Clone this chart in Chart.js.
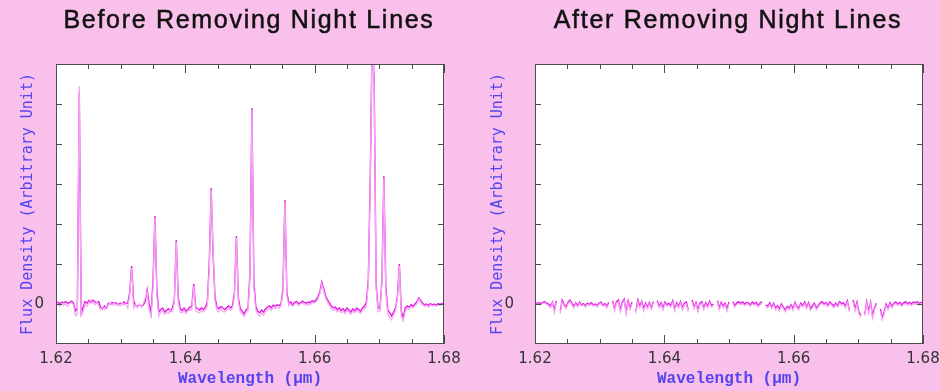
<!DOCTYPE html>
<html>
<head>
<meta charset="utf-8">
<script src="https://cdn.jsdelivr.net/npm/chart.js@4/dist/chart.umd.min.js"></script>
<style>
  body { margin: 0; background: #f8c0ea; }
  .wrap { position: absolute; top: 0; width: 470px; height: 391px; }
  #left { left: 0; }
  #right { left: 470px; }
</style>
</head>
<body>
<div class="wrap" id="left"><canvas id="before" width="470" height="391"></canvas></div>
<div class="wrap" id="right"><canvas id="after" width="470" height="391"></canvas></div>
<script>
// wavelength sampling (micron), one flux value per sample
const wlStart = 1.62;
const wlStep = 0.0003;

const xLabelTicks = [1.62, 1.64, 1.66, 1.68];
const xMinorTicks = [1.625, 1.63, 1.635, 1.645, 1.65, 1.655, 1.665, 1.67, 1.675];
const yTicks = [0, 1, 2, 3, 4, 5];

// raw spectrum, two exposures, sky (OH) lines still in
const beforeA = [
  0.02, 0.04, 0.01, 0.05, 0.03, 0.06, 0.02, 0.04, 0.07, 0.03,
  -0.18, -0.1, 5.3, -0.22, -0.08, 0.06, 0.02, 0.09, 0.04, 0.1,
  0.05, 0.03, 0.06, -0.08, -0.12, -0.05, -0.1, 0.02, 0.0, 0.04,
  0.01, 0.03, -0.02, 0.02, 0.0, 0.05, 0.01, 0.02, 0.3, 0.95,
  0.08, -0.04, -0.06, -0.02, -0.05, -0.03, 0.06, 0.35, 0.02, -0.24,
  0.55, 2.2, 0.35, -0.2, -0.14, -0.1, -0.2, -0.16, -0.12, -0.18,
  -0.1, 0.1, 1.6, 0.18, -0.12, -0.16, -0.1, -0.18, -0.13, -0.08,
  -0.06, 0.5, -0.08, -0.12, -0.15, -0.1, -0.14, -0.08, 0.05, 1.0,
  2.9, 1.2, 0.15, -0.08, -0.12, -0.06, -0.1, -0.14, -0.09, -0.05,
  -0.1, -0.04, 0.3, 1.7, 0.15, -0.12, -0.18, -0.25, -0.14, -0.1,
  0.8, 4.9, 0.55, -0.06, -0.18, -0.22, -0.15, -0.2, -0.12, -0.08,
  -0.05, -0.1, -0.03, -0.06, -0.02, -0.04, 0.0, 0.4, 2.6, 0.3,
  0.02, 0.05, -0.02, 0.04, 0.06, 0.01, 0.03, 0.07, 0.04, 0.02,
  0.05, 0.03, 0.08, 0.06, 0.1, 0.18, 0.3, 0.55, 0.38, 0.2,
  0.1, 0.02, -0.06, -0.1, -0.08, -0.14, -0.1, -0.16, -0.12, -0.18,
  -0.1, -0.15, -0.2, -0.12, -0.17, -0.1, -0.14, -0.18, -0.1, -0.06,
  0.05, 0.6, 3.2, 6.8, 5.6, 0.5, -0.08, -0.12, 0.6, 3.2,
  0.45, -0.15, -0.22, -0.3, -0.2, -0.1, 0.2, 1.0, -0.18, -0.35,
  -0.1, -0.05, -0.08, -0.02, -0.06, 0.0, 0.05, 0.15, 0.08, 0.02,
  -0.02, 0.0, -0.04, 0.01, -0.02, 0.0, -0.03, 0.01, -0.01, 0.02,
  0.0
];
const beforeB = [
  -0.02, 0.0, -0.05, 0.02, -0.03, 0.0, -0.06, 0.01, 0.04, -0.02,
  -0.3, -0.25, 5.45, -0.3, -0.2, 0.0, -0.06, 0.04, 0.1, 0.03,
  -0.02, 0.05, -0.04, -0.15, -0.08, -0.14, -0.06, -0.02, 0.03, -0.04,
  0.02, -0.03, 0.01, -0.05, 0.02, -0.02, 0.0, -0.1, 0.25, 0.9,
  -0.1, -0.02, -0.1, 0.0, -0.08, 0.02, 0.15, 0.3, -0.15, -0.3,
  0.4, 2.15, 0.2, -0.3, -0.2, -0.18, -0.26, -0.2, -0.24, -0.15,
  -0.2, 0.05, 1.55, 0.05, -0.2, -0.22, -0.16, -0.24, -0.18, -0.14,
  -0.15, 0.45, -0.18, -0.2, -0.22, -0.16, -0.2, -0.14, -0.05, 0.9,
  2.85, 1.3, 0.05, -0.16, -0.2, -0.12, -0.18, -0.2, -0.15, -0.12,
  -0.16, -0.1, 0.2, 1.65, 0.05, -0.2, -0.26, -0.32, -0.2, -0.16,
  0.7, 4.85, 0.4, -0.15, -0.26, -0.3, -0.22, -0.28, -0.18, -0.14,
  -0.12, -0.16, -0.08, -0.12, -0.08, -0.1, -0.05, 0.3, 2.55, 0.2,
  -0.04, 0.0, -0.06, 0.0, 0.02, -0.04, 0.0, 0.03, -0.02, -0.03,
  0.0, -0.02, 0.04, 0.02, 0.05, 0.12, 0.25, 0.5, 0.32, 0.15,
  0.04, -0.04, -0.12, -0.16, -0.14, -0.2, -0.15, -0.22, -0.18, -0.24,
  -0.16, -0.2, -0.26, -0.18, -0.22, -0.16, -0.2, -0.24, -0.16, -0.12,
  -0.05, 0.5, 3.0, 6.9, 5.4, 0.4, -0.2, -0.18, 0.5, 3.15,
  0.3, -0.25, -0.32, -0.4, -0.28, -0.16, 0.15, 0.95, -0.3, -0.42,
  -0.18, -0.1, -0.14, -0.06, -0.1, -0.05, 0.0, 0.12, 0.04, -0.02,
  -0.06, -0.03, -0.08, -0.02, -0.05, -0.03, -0.06, -0.02, -0.04, 0.0,
  -0.02
];

// same exposures after sky subtraction; null = masked sky line
const afterA = [
  0.0, 0.02, 0.03, 0.01, 0.04, 0.06, 0.02, 0.0, -0.05, 0.05,
  -0.15, 0.08, null, -0.18, 0.1, 0.0, -0.08, 0.04, 0.1, 0.02,
  -0.06, 0.03, -0.04, 0.05, -0.02, 0.01, -0.05, 0.02, -0.01, 0.03,
  -0.02, 0.0, -0.04, 0.02, 0.05, -0.03, 0.01, -0.06, 0.04, null,
  0.08, -0.12, 0.06, 0.1, -0.15, 0.05, 0.12, -0.2, 0.08, -0.1,
  0.05, null, -0.18, 0.1, -0.05, 0.06, -0.12, 0.02, -0.08, 0.04,
  -0.1, 0.06, null, 0.08, -0.06, 0.03, -0.1, 0.05, -0.02, 0.02,
  -0.04, 0.08, -0.12, 0.03, -0.06, 0.06, -0.1, 0.02, 0.05, -0.14,
  null, 0.1, -0.08, 0.04, -0.15, 0.02, 0.06, -0.1, 0.03, -0.05,
  0.07, -0.04, 0.0, null, 0.08, -0.1, 0.04, -0.06, 0.02, -0.12,
  0.05, null, 0.06, -0.04, 0.03, 0.06, 0.02, 0.05, 0.0, 0.04,
  0.03, -0.02, 0.05, 0.01, 0.04, -0.03, 0.02, 0.06, null, -0.02,
  -0.05, 0.03, -0.08, 0.02, -0.1, -0.04, -0.12, 0.0, -0.08, -0.15,
  -0.06, -0.1, -0.02, -0.12, 0.04, -0.06, -0.1, 0.02, -0.04, 0.05,
  -0.08, 0.03, -0.12, -0.05, 0.02, -0.1, -0.04, 0.03, 0.06, 0.0,
  0.04, -0.03, 0.05, 0.0, -0.05, 0.02, -0.04, 0.06, 0.01, 0.03,
  -0.05, 0.08, -0.15, null, 0.1, -0.12, 0.05, -0.2, -0.28, null,
  -0.25, 0.06, -0.18, 0.04, -0.3, -0.1, 0.02, null, -0.12, -0.35,
  -0.2, 0.0, -0.1, 0.03, -0.06, 0.02, 0.05, 0.0, 0.04, -0.02,
  0.03, 0.06, 0.01, 0.04, 0.0, 0.05, 0.03, 0.06, 0.02, 0.04,
  0.03
];
const afterB = [
  -0.03, 0.0, 0.0, -0.02, 0.02, 0.03, -0.01, -0.04, -0.1, 0.02,
  -0.22, 0.04, null, -0.24, 0.05, -0.04, -0.12, 0.0, 0.06, -0.02,
  -0.1, 0.0, -0.08, 0.02, -0.05, -0.02, -0.08, -0.01, -0.04, 0.0,
  -0.05, -0.03, -0.07, -0.01, 0.02, -0.06, -0.02, -0.1, 0.0, null,
  0.04, -0.18, 0.02, 0.05, -0.2, 0.0, 0.08, -0.26, 0.03, -0.15,
  0.0, null, -0.24, 0.05, -0.1, 0.02, -0.18, -0.02, -0.12, 0.0,
  -0.14, 0.02, null, 0.04, -0.1, -0.01, -0.15, 0.01, -0.06, -0.02,
  -0.08, 0.04, -0.18, -0.01, -0.1, 0.02, -0.15, -0.02, 0.0, -0.2,
  null, 0.05, -0.12, 0.0, -0.2, -0.02, 0.02, -0.15, -0.01, -0.1,
  0.03, -0.08, -0.04, null, 0.04, -0.15, 0.0, -0.1, -0.02, -0.18,
  0.0, null, 0.02, -0.08, -0.01, 0.02, -0.02, 0.01, -0.04, 0.0,
  -0.01, -0.06, 0.01, -0.03, 0.0, -0.07, -0.02, 0.02, null, -0.06,
  -0.1, -0.01, -0.12, -0.02, -0.15, -0.08, -0.18, -0.04, -0.12, -0.2,
  -0.1, -0.15, -0.06, -0.16, 0.0, -0.1, -0.15, -0.02, -0.08, 0.01,
  -0.12, -0.01, -0.16, -0.1, -0.02, -0.15, -0.08, -0.01, 0.02, -0.04,
  0.0, -0.07, 0.01, -0.04, -0.1, -0.02, -0.08, 0.02, -0.03, -0.01,
  -0.1, 0.04, -0.2, null, 0.05, -0.18, 0.0, -0.26, -0.34, null,
  -0.3, 0.02, -0.24, 0.0, -0.36, -0.15, -0.02, null, -0.18, -0.4,
  -0.25, -0.04, -0.15, -0.01, -0.1, -0.02, 0.01, -0.04, 0.0, -0.06,
  -0.01, 0.02, -0.03, 0.0, -0.04, 0.01, -0.01, 0.02, -0.02, 0.0,
  -0.01
];

const wavelengths = beforeA.map((_, i) => +(wlStart + i * wlStep).toFixed(4));
const toPoints = arr => arr.map((v, i) => ({ x: wavelengths[i], y: v }));

const labelBlue = '#5443ee';
const tickFont = { family: 'DejaVu Sans', size: 15 };

// white plot area, closed frame with inward ticks on all four sides, spaced-out heading
const framePlugin = {
  id: 'frame',
  beforeDraw(chart) {
    const a = chart.chartArea;
    chart.ctx.save();
    chart.ctx.fillStyle = '#ffffff';
    chart.ctx.fillRect(a.left, a.top, a.width, a.height);
    chart.ctx.restore();
  },
  afterDatasetsDraw(chart) {
    const { ctx, chartArea: a, scales: { x, y } } = chart;
    ctx.save();
    ctx.strokeStyle = '#4d4d4d';
    ctx.lineWidth = 1;
    ctx.strokeRect(a.left + 0.5, a.top + 0.5, a.width - 1, a.height - 1);
    ctx.beginPath();
    const xt = xLabelTicks.map(v => [v, 9]).concat(xMinorTicks.map(v => [v, 5]));
    xt.forEach(([v, len]) => {
      const px = Math.round(x.getPixelForValue(v)) + 0.5;
      ctx.moveTo(px, a.bottom); ctx.lineTo(px, a.bottom - len);
      ctx.moveTo(px, a.top); ctx.lineTo(px, a.top + len);
    });
    yTicks.forEach(v => {
      const py = Math.round(y.getPixelForValue(v)) + 0.5;
      ctx.moveTo(a.left, py); ctx.lineTo(a.left + 6, py);
      ctx.moveTo(a.right, py); ctx.lineTo(a.right - 6, py);
    });
    ctx.stroke();

    const heading = chart.options.plugins.frame.heading;
    const hx = (a.left + a.right) / 2 - 1;
    ctx.font = '25px "Liberation Sans"';
    ctx.fillStyle = '#111111';
    ctx.strokeStyle = '#111111';
    ctx.lineWidth = 0.5;
    ctx.textAlign = 'center';
    ctx.textBaseline = 'alphabetic';
    if ('letterSpacing' in ctx) ctx.letterSpacing = '1.7px';
    ctx.fillText(heading, hx, 28);
    ctx.strokeText(heading, hx, 28);
    ctx.restore();
  }
};

function makeChart(id, heading, seriesA, seriesB, yWidth, padRight, labelPad) {
  return new Chart(document.getElementById(id), {
    type: 'line',
    data: {
      datasets: [
        { data: toPoints(seriesB), borderColor: '#f5a6f2', borderWidth: 1.2 },
        { data: toPoints(seriesA), borderColor: '#e41be4', borderWidth: 1.4 }
      ]
    },
    options: {
      responsive: false,
      animation: false,
      spanGaps: false,
      elements: { point: { radius: 0 }, line: { tension: 0 } },
      layout: { padding: { left: 0, right: padRight, top: 64, bottom: 0 } },
      plugins: {
        legend: { display: false },
        tooltip: { enabled: false },
        title: { display: false },
        frame: { heading: heading }
      },
      scales: {
        x: {
          type: 'linear',
          min: 1.62,
          max: 1.68,
          afterBuildTicks: s => { s.ticks = xLabelTicks.map(v => ({ value: v })); },
          afterFit: s => { s.height = 47; s.paddingLeft = 0; s.paddingRight = 0; },
          ticks: {
            font: tickFont, color: '#333', padding: 6, maxRotation: 0,
            callback: v => v.toFixed(2)
          },
          grid: { display: false, drawTicks: false },
          border: { display: false },
          title: {
            display: true,
            text: 'Wavelength (μm)',
            color: labelBlue,
            font: { family: 'Liberation Mono', size: 16, weight: 'bold' },
            padding: { top: 0, bottom: 2 }
          }
        },
        y: {
          min: -1,
          max: 6,
          afterBuildTicks: s => { s.ticks = [{ value: 0 }]; },
          afterFit: s => { s.width = yWidth; },
          ticks: { font: tickFont, color: '#333', padding: labelPad, callback: v => String(v) },
          grid: { display: false, drawTicks: false },
          border: { display: false },
          title: {
            display: true,
            text: 'Flux Density (Arbitrary Unit)',
            color: labelBlue,
            font: { family: 'DejaVu Sans Mono', size: 15 },
            padding: { top: 19, bottom: 0 }
          }
        }
      }
    },
    plugins: [framePlugin]
  });
}

makeChart('before', 'Before Removing Night Lines', beforeA, beforeB, 56, 26, 12);
makeChart('after', 'After Removing Night Lines', afterA, afterB, 65, 17, 21);
</script>
</body>
</html>
